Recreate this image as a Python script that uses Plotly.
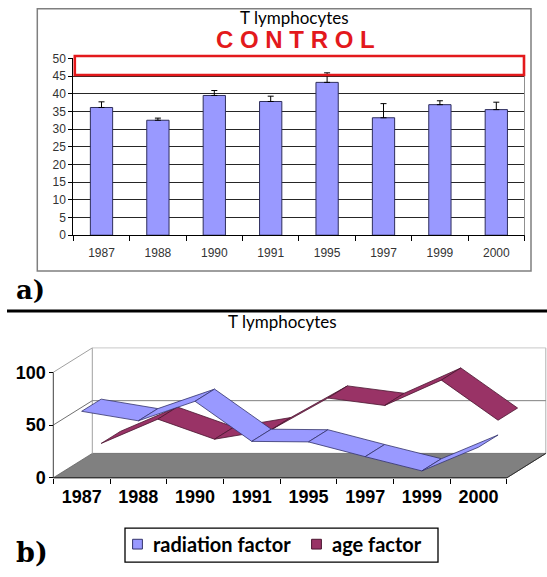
import plotly.graph_objects as go

W, H = 547, 577

# ---------------- data ----------------
years = ["1987", "1988", "1990", "1991", "1995", "1997", "1999", "2000"]
control_values = [36.1, 32.5, 39.5, 37.8, 43.2, 33.2, 36.9, 35.5]
control_errors = [1.6, 0.6, 1.4, 1.5, 2.7, 4.0, 1.1, 2.1]
radiation_factor = [63, 54, 72.5, 34.5, 34, 20, 6.5, 29]
age_factor = [21, 44, 25, 34, 64, 57, 81, 43]
top_yticks = [0, 5, 10, 15, 20, 25, 30, 35, 40, 45, 50]
bottom_yticks = [0, 50, 100]


def px(x):
    return x / W


def py(y):
    return 1 - y / H


fig = go.Figure()

# ---------------- panel a: bar chart ----------------
fig.add_trace(go.Bar(
    x=years, y=control_values,
    marker=dict(color="#9999FF", line=dict(color="#2E2E5C", width=1)),
    error_y=dict(type="data", array=control_errors, arrayminus=[0] * len(years),
                 symmetric=False, color="#000000", thickness=1, width=3),
    xaxis="x", yaxis="y", showlegend=False, hoverinfo="x+y",
))

# ---------------- panel b: pseudo 3-D ribbons ----------------
DX = 0.688   # full depth offset in category units
DY = 23.1    # full depth offset in value units
series = [
    ("age factor", age_factor, 0.5, 1.0, "#993366", "#4A1530"),
    ("radiation factor", radiation_factor, 0.0, 0.5, "#9999FF", "#33336B"),
]
for name, vals, d0, d1, fc, lc in series:
    n = len(vals)
    for i in range(n - 1):
        xs = [i + d0 * DX, i + 1 + d0 * DX, i + 1 + d1 * DX, i + d1 * DX, i + d0 * DX]
        ys = [vals[i] + d0 * DY, vals[i + 1] + d0 * DY, vals[i + 1] + d1 * DY,
              vals[i] + d1 * DY, vals[i] + d0 * DY]
        fig.add_trace(go.Scatter(
            x=xs, y=ys, mode="lines", fill="toself", fillcolor=fc,
            line=dict(color=lc, width=0.8), xaxis="x2", yaxis="y2",
            showlegend=False, hoverinfo="skip", name=name,
        ))

n = len(years)
x_lo, x_hi = -0.5, n - 0.5
shapes = []
# floor
shapes.append(dict(type="path", xref="x2", yref="y2", layer="below",
                   path=f"M {x_lo},0 L {x_lo+DX},{DY} L {x_hi+DX},{DY} L {x_hi},0 Z",
                   fillcolor="#808080", line=dict(color="#606060", width=0.8)))


def seg(x0, y0, x1, y1, color, width=1):
    shapes.append(dict(type="line", xref="x2", yref="y2", layer="below",
                       x0=x0, y0=y0, x1=x1, y1=y1, line=dict(color=color, width=width)))


# walls
seg(x_lo + DX, DY, x_lo + DX, 100 + DY, "#A0A0A0")
seg(x_hi + DX, DY, x_hi + DX, 100 + DY, "#A0A0A0")
seg(x_lo + DX, 100 + DY, x_hi + DX, 100 + DY, "#C8C8C8")
seg(x_lo + DX, 50 + DY, x_hi + DX, 50 + DY, "#808080")
seg(x_lo, 100, x_lo + DX, 100 + DY, "#A0A0A0")
seg(x_lo, 50, x_lo + DX, 50 + DY, "#707070")
# front axes
seg(x_lo, 0, x_lo, 100, "#404040")
seg(x_lo, 0, x_hi, 0, "#202020")
seg(x_hi, 0, x_hi + DX, DY, "#303030")

# ---------------- decorations (paper coords) ----------------
shapes.append(dict(type="rect", xref="paper", yref="paper",
                   x0=px(37.3), x1=px(531), y0=py(271), y1=py(1.7),
                   line=dict(color="#7F7F7F", width=1.5)))
shapes.append(dict(type="line", xref="paper", yref="paper",
                   x0=px(524.5), x1=px(524.5), y0=py(234.3), y1=py(52.7),
                   line=dict(color="#909090", width=1)))
shapes.append(dict(type="rect", xref="paper", yref="paper",
                   x0=px(74.8), x1=px(524), y0=py(69.8), y1=py(50.3),
                   line=dict(color="#E3191C", width=2.6)))
shapes.append(dict(type="line", xref="paper", yref="paper",
                   x0=px(7), x1=px(547), y0=py(312), y1=py(312),
                   line=dict(color="#000000", width=3)))
shapes.append(dict(type="rect", xref="paper", yref="paper",
                   x0=px(125), x1=px(438), y0=py(570), y1=py(535),
                   line=dict(color="#000000", width=1.3)))
shapes.append(dict(type="rect", xref="paper", yref="paper",
                   x0=px(132.6), x1=px(142.4), y0=py(556.5), y1=py(546.5),
                   fillcolor="#9999FF", line=dict(color="#33336B", width=1)))
shapes.append(dict(type="rect", xref="paper", yref="paper",
                   x0=px(311.6), x1=px(321.4), y0=py(556.5), y1=py(546.5),
                   fillcolor="#993366", line=dict(color="#4A1530", width=1)))

ann = []


def text(x, y, s, size, family, color="#000000", xanchor="center", bold=False):
    if bold:
        s = f"<b>{s}</b>"
    ann.append(dict(x=px(x), y=py(y), xref="paper", yref="paper", text=s,
                    showarrow=False, xanchor=xanchor, yanchor="middle", borderpad=0,
                    font=dict(size=size, family=family, color=color)))


text(294.5, 10.5, "T lymphocytes", 17, "Lato")
text(295, 33.5, "C O N T R O L", 24, "Liberation Sans", color="#E3191C", bold=True)
text(15, 291, "a)", 26, "DejaVu Serif", xanchor="left", bold=True)
text(282, 323, "T lymphocytes", 17, "Lato")
text(15, 560, "b)", 27, "DejaVu Serif", xanchor="left", bold=True)
text(152.5, 551.5, "radiation factor", 20, "Lato", xanchor="left", bold=True)
text(330.8, 551.5, "age factor", 20, "Lato", xanchor="left", bold=True)

fig.update_layout(
    width=W, height=H,
    margin=dict(l=0, r=0, t=0, b=0),
    paper_bgcolor="#FFFFFF", plot_bgcolor="#FFFFFF",
    bargap=0.605,
    showlegend=False,
    shapes=shapes, annotations=ann,
    xaxis=dict(domain=[px(73.3), px(524.5)], type="category", anchor="y",
               tickson="boundaries", ticks="outside", ticklen=5, tickcolor="#000",
               showline=True, linecolor="#000", linewidth=1,
               tickfont=dict(family="Liberation Sans", size=12, color="#333"),
               ticklabelstandoff=6, showgrid=False),
    yaxis=dict(domain=[py(234.3), py(52.7)], range=[0, 50], anchor="x",
               tickvals=top_yticks, ticks="outside", ticklen=4, tickcolor="#000",
               showline=True, linecolor="#000", linewidth=1,
               showgrid=True, gridcolor="#262626", gridwidth=1, zeroline=False,
               tickfont=dict(family="Liberation Sans", size=12, color="#333")),
    xaxis2=dict(domain=[px(49.9), px(546.6)], range=[-0.56, 8.2],
                anchor="free", position=py(483.3),
                tickmode="array", tickvals=list(range(n)),
                ticktext=[f"<b>{y}</b>" for y in years],
                ticks="", showline=False, showgrid=False, zeroline=False,
                minor=dict(tickmode="array", tickvals=[i - 0.5 for i in range(n + 1)],
                           ticks="outside", ticklen=5, tickcolor="#000", tickwidth=1),
                tickfont=dict(family="Liberation Sans", size=18, color="#000"),
                ticklabelstandoff=6),
    yaxis2=dict(domain=[py(485.5), py(348.5)], range=[-2, 124.5],
                anchor="free", position=px(53.3),
                tickvals=bottom_yticks, ticktext=[f"<b>{v}</b>" for v in bottom_yticks],
                ticks="outside", ticklen=4, tickcolor="#000",
                showline=False, showgrid=False, zeroline=False,
                tickfont=dict(family="Liberation Sans", size=18, color="#000")),
)

fig.write_html("out.html", config={"displayModeBar": False},
               post_script="document.body.style.margin='0px';")
